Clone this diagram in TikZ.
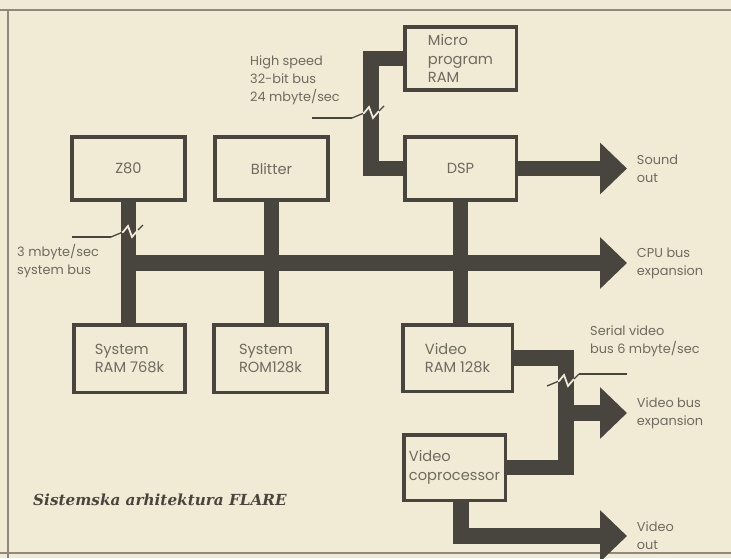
\documentclass[tikz,border=0pt]{standalone}
\usepackage{fontspec}
\setmainfont{Poppins}
\newfontfamily\capfont{DejaVu Serif}
\usetikzlibrary{arrows.meta,backgrounds}
\definecolor{paper}{HTML}{F1EBD6}
\definecolor{ink}{HTML}{48453F}
\definecolor{smoke}{HTML}{6E6A5F}
\definecolor{rule}{HTML}{8E897C}

\begin{document}
\begin{tikzpicture}[x=0.03cm,y=-0.03cm,text=smoke,
  font=\fontsize{11}{15.5}\selectfont,
  box/.style={draw=ink,line width=3pt,fill=paper,align=left,inner sep=0pt,
    font=\fontsize{12.5}{16}\selectfont},
  bus/.style={ink,line width=13.6pt,line join=miter,line cap=rect},
  busarrow/.style={bus,-{Triangle[length=23pt,width=42.7pt]}},
  note/.style={align=left,inner sep=0pt,anchor=north west},
  tip/.style={anchor=west,align=left,inner xsep=8.5pt,inner ysep=0pt,outer sep=0pt},
  brkline/.style={ink,line width=1.1pt},
  busbreak/.pic={
    \draw[brkline] (-19,6) -- (-8,1.4);
    \draw[brkline,paper,line width=1.5pt]
      (-8,1.4) -- (-7,1) -- (-2,-5) -- (2,6) -- (8,-1);
    \draw[brkline] (8,-1) -- (13,-6);
  }]
  \useasboundingbox (0,0) rectangle (731,558);

  % boxes
  \node[box,minimum width=3.405cm,minimum height=1.905cm] (z80)
    at (128.5,168.5) {Z80};
  \node[box,minimum width=3.405cm,minimum height=1.905cm] (blitter)
    at (271.5,168.5) {Blitter};
  \node[box,minimum width=3.345cm,minimum height=1.905cm] (mpram)
    at (460.5,58.5) {Micro\\program\\RAM};
  \node[box,minimum width=3.345cm,minimum height=1.905cm] (dsp)
    at (460.5,168.5) {DSP};
  \node[box,minimum width=3.345cm,minimum height=2.025cm] (sysram)
    at (129.5,358.5) {System\\RAM 768k};
  \node[box,minimum width=3.405cm,minimum height=2.025cm] (sysrom)
    at (270.5,358.5) {System\\ROM128k};
  \node[box,minimum width=3.285cm,minimum height=1.995cm] (vidram)
    at (457.5,358) {Video\\RAM 128k};
  \node[box,minimum width=3.045cm,minimum height=1.965cm] (vidcop)
    at (454.5,467.5) {Video\\coprocessor};

  % arrow labels
  \node[tip] (soundlbl) at (627,169) {Sound\\out};
  \node[tip] (cpulbl) at (627,263) {CPU bus\\expansion};
  \node[tip] (videxlbl) at (627,413) {Video bus\\expansion};
  \node[tip] (vidoutlbl) at (627,536) {Video\\out};

  % bus notes
  \node[note] (hslbl) at (250,55) {High speed\\32-bit bus\\24 mbyte/sec};
  \node[note] (sblbl) at (17,244) {3 mbyte/sec\\system bus};
  \node[note] (svlbl) at (590,325) {Serial video\\bus 6 mbyte/sec};
  \node[anchor=west,inner sep=0pt,text=ink,
    font=\capfont\bfseries\itshape\fontsize{13}{15}\selectfont] (caption)
    at (33,500) {Sistemska arhitektura FLARE};

  \coordinate (cpubus) at (0,263);
  \coordinate (microbus) at (371,0);
  \coordinate (vidbus) at (566,0);
  \coordinate (vidoutbus) at (461,0);

  \begin{scope}[on background layer]
    \fill[paper] (0,0) rectangle (731,558);
    \draw[rule,line width=1.2pt] (0,10) -- (731,10) (8,10) -- (8,558)
      (0,553) -- (731,553);
    \draw[bus] (z80.south) -- (z80.south |- sysram.north);
    \draw[bus] (blitter.south) -- (blitter.south |- sysrom.north);
    \draw[bus] (dsp.south) -- (dsp.south |- vidram.north);
    \draw[busarrow] (z80.south |- cpubus) -- (cpulbl.west);
    \draw[bus] (mpram.west) -- (mpram.west -| microbus)
      -- (dsp.west -| microbus) -- (dsp.west);
    \draw[busarrow] (dsp.east) -- (dsp.east -| soundlbl.west);
    \draw[bus] (vidram.east) -- (vidram.east -| vidbus)
      -- (vidcop.east -| vidbus) -- (vidcop.east);
    \draw[busarrow] (vidbus |- videxlbl.west) -- (videxlbl.west);
    \draw[busarrow] (vidcop.south -| vidoutbus)
      -- (vidoutbus |- vidoutlbl.west) -- (vidoutlbl.west);
  \end{scope}

  % bus breaks
  \coordinate (hsbrk) at (371,112);
  \coordinate (sbbrk) at (130,231);
  \coordinate (svbrk) at (566,380);
  \pic at (hsbrk) {busbreak};
  \pic at (sbbrk) {busbreak};
  \pic at (svbrk) {busbreak};
  \coordinate (hslead) at (312,118);
  \coordinate (sblead) at (72,237);
  \coordinate (svlead) at (627,374);
  \draw[brkline] (hslead) -- ([shift={(-19,6)}]hsbrk);
  \draw[brkline] (sblead) -- ([shift={(-19,6)}]sbbrk);
  \draw[brkline] ([shift={(13,-6)}]svbrk) -- (svlead);
\end{tikzpicture}
\end{document}
